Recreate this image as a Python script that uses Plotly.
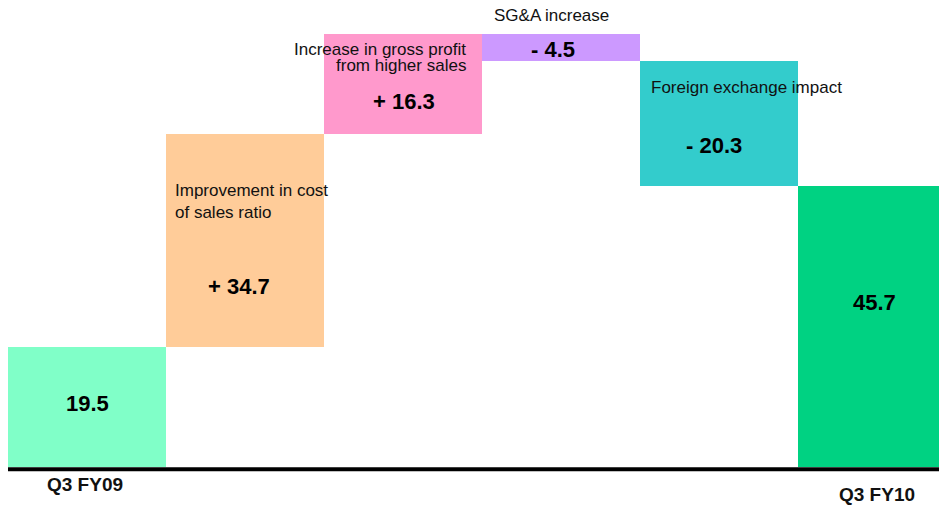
import plotly.graph_objects as go

# waterfall data (billions)
steps = ["Q3 FY09", "Cost of sales ratio", "Gross profit from sales", "SG&A", "Foreign exchange", "Q3 FY10"]
values = [19.5, 34.7, 16.3, -4.5, -20.3, 45.7]
measures = ["absolute", "relative", "relative", "relative", "relative", "total"]
value_labels = ["19.5", "+ 34.7", "+ 16.3", "- 4.5", "- 20.3", "45.7"]
colors = ["#80FFC8", "#FFCC99", "#FF99CC", "#CC99FF", "#33CCCC", "#00D282"]

# work out the floating bases from the running total
bases = []
heights = []
running = 0
for v, m in zip(values, measures):
    if m == "relative":
        bases.append(running)
        heights.append(v)
        running += v
    else:
        bases.append(0)
        heights.append(v)
        running = v

xs = list(range(len(steps)))

fig = go.Figure()
fig.add_trace(go.Bar(
    x=xs, y=heights, base=bases, width=1,
    marker=dict(color=colors, line=dict(width=0)),
    hoverinfo="skip", showlegend=False,
))

FONT = "Liberation Sans, Arial, sans-serif"
bold = dict(family=FONT, size=22, color="black")
plain = dict(family=FONT, size=17, color="#111111")
axis_font = dict(family=FONT, size=19, color="#111111")

# value labels sit at hand-picked spots inside each bar
label_pos = [(0.0, 10.25), (0.96, 29.3), (2.005, 59.4), (2.947, 68.0), (3.966, 52.3), (4.987, 26.8)]
for (x, y), t in zip(label_pos, value_labels):
    fig.add_annotation(x=x, y=y, text="<b>%s</b>" % t, font=bold, showarrow=False)

# descriptive notes (x, y, text, anchor)
notes = [
    (0.542, 43.2, "Improvement in cost<br>of sales ratio", "left"),
    (2.41, 68.0, "Increase in gross profit", "right"),
    (2.41, 65.3, "from higher sales", "right"),
    (2.937, 73.4, "SG&A increase", "center"),
    (3.56, 61.8, "Foreign exchange impact", "left"),
]
for x, y, t, anc in notes:
    fig.add_annotation(x=x, y=y, text=t, font=plain, showarrow=False,
                       xanchor=anc, yanchor="middle", align=anc)

# period names under the baseline
fig.add_annotation(x=-0.01, y=-2.8, text="<b>%s</b>" % steps[0], font=axis_font, showarrow=False)
fig.add_annotation(x=5.003, y=-4.5, text="<b>%s</b>" % steps[-1], font=axis_font, showarrow=False)

# baseline
fig.add_shape(type="line", xref="paper", yref="y", x0=0, x1=1, y0=-0.37, y1=-0.37,
              line=dict(color="black", width=4))

fig.update_layout(
    width=939, height=499,
    margin=dict(l=0, r=0, t=0, b=0),
    paper_bgcolor="white", plot_bgcolor="white",
    bargap=0,
    xaxis=dict(range=[-0.5, 5.443], showgrid=False, zeroline=False, showticklabels=False,
               showline=False),
    yaxis=dict(range=[-6.51, 74.68], showgrid=False, zeroline=False, showticklabels=False,
               showline=False),
)

fig.write_html("out.html")
